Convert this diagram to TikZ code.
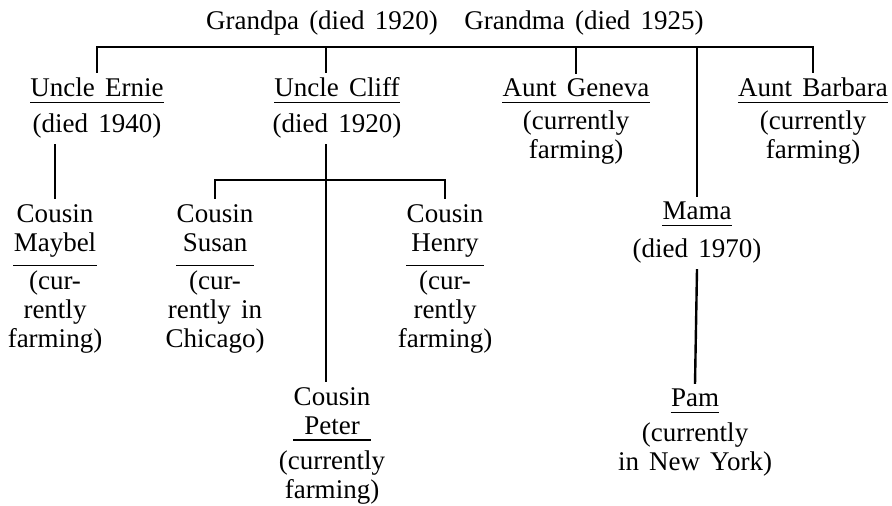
\documentclass[tikz,border=0pt]{standalone}
\usepackage{fontspec}
\setmainfont{Liberation Serif}[WordSpace=1.5]
\tikzset{
    who/.style={align=center, inner xsep=0pt, inner ysep=2.5pt, anchor=base, font=\fontsize{13.5}{14.5}\selectfont},
    info/.style={who},
    block/.style={who, anchor=north},
    famline/.style={line width=1.2pt},
    uline/.style={line width=0.8pt}
}

\begin{document}
\begin{tikzpicture}[x=0.5pt, y=-0.5pt]
    \useasboundingbox (0,0) rectangle (892,506);
    \node [who] (grandpa) at (322,30) {Grandpa (died 1920)};
    \node [who] (grandma) at (584,30) {Grandma (died 1925)};
    \coordinate (bus) at (446,47);

    \node [who] (ernie) at (97,97) {Uncle Ernie};
    \node [info] (ernieS) at (97,133) {(died 1940)};
    \node [who] (cliff) at (337,97) {Uncle Cliff};
    \node [info] (cliffS) at (337,133) {(died 1920)};
    \node [who] (geneva) at (576,97) {Aunt Geneva};
    \node [block] (genevaS) at (576,105) {(currently\\farming)};
    \node [who] (barbara) at (813,97) {Aunt Barbara};
    \node [block] (barbaraS) at (813,105) {(currently\\farming)};

    \coordinate (cj) at (326,180);
    \node [block] (maybel) at (55,199) {Cousin\\Maybel\strut};
    \node [block] (maybelS) at (55,265) {(cur-\\rently\\farming)};
    \node [block] (susan) at (215,199) {Cousin\\Susan\strut};
    \node [block] (susanS) at (215,265) {(cur-\\rently in\\Chicago)};
    \node [block] (henry) at (445,199) {Cousin\\Henry\strut};
    \node [block] (henryS) at (445,265) {(cur-\\rently\\farming)};
    \node [block] (peter) at (332,382) {Cousin\\Peter};
    \node [block] (peterS) at (332,445) {(currently\\farming)};

    \node [who] (mama) at (697,220) {Mama};
    \node [info] (mamaS) at (697,258) {(died 1970)};
    \node [who] (pam) at (695,407) {Pam};
    \node [block] (pamS) at (695,417) {(currently\\in New York)};

    % family lines
    \draw [famline] (ernie.north) |- (barbara.north |- bus) -- (barbara.north);
    \draw [famline] (bus -| cj) -- (cliff.north -| cj);
    \draw [famline] (bus -| geneva.north) -- (geneva.north);
    \draw [famline] (bus -| mama.north) -- (mama.north);
    \draw [famline] (ernieS.south -| maybel.north) -- (maybel.north);
    \draw [famline] (cliffS.south -| cj) -- (peter.north -| cj);
    \draw [famline] (susan.north) |- (cj) -| (henry.north);
    \draw [famline] (mamaS.south) -- (pam.north);

    % underlines
    \foreach \n in {ernie,cliff,geneva,barbara,maybel,susan,henry,peter,mama,pam}
        \draw [uline] (\n.south west) -- (\n.south east);
\end{tikzpicture}
\end{document}
